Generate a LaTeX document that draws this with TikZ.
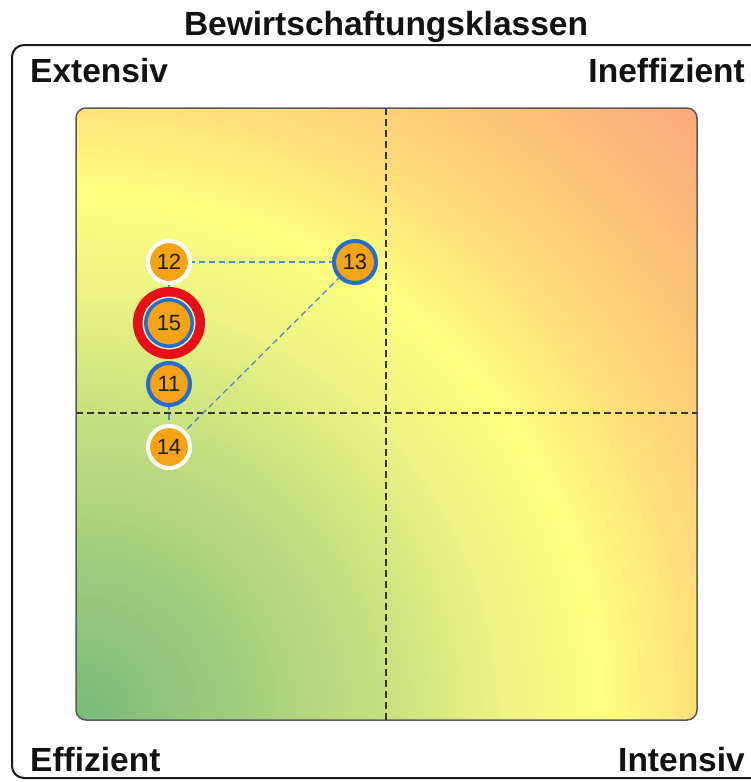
\documentclass[tikz,border=0pt]{standalone}
\usepackage{fontspec}
\setmainfont{Liberation Sans}
\pgfdeclarelayer{bgzero}
\pgfdeclarelayer{bgone}
\pgfsetlayers{bgzero,bgone,main}
\definecolor{dotorange}{RGB}{243,163,20}
\definecolor{ringblue}{RGB}{36,110,210}
\definecolor{linkblue}{RGB}{80,140,212}
\definecolor{ringred}{RGB}{232,16,24}
\definecolor{crossgray}{RGB}{55,55,50}
\definecolor{gz}{rgb}{0.47,0.73,0.48}
\definecolor{ga}{rgb}{0.62,0.80,0.49}
\definecolor{gb}{rgb}{0.78,0.88,0.50}
\definecolor{gc}{rgb}{0.93,0.96,0.52}
\definecolor{gd}{rgb}{1.0,1.0,0.50}
\definecolor{ge}{rgb}{1.0,0.88,0.48}
\definecolor{gf}{rgb}{0.99,0.79,0.47}
\definecolor{gg}{rgb}{0.98,0.64,0.48}
\begin{document}
\begin{tikzpicture}[x=1pt,y=-1pt,
  lbl/.style={font=\bfseries\fontsize{33.5}{40}\selectfont, inner sep=0, text=black!93},
  dot/.style={circle, fill=dotorange, inner sep=0, minimum size=42, line width=4,
    font=\fontsize{22}{26}\selectfont, text=black!88},
  whitedot/.style={dot, draw=white},
  bluedot/.style={dot, draw=ringblue},
  link/.style={draw=linkblue, line width=1.3, dash pattern=on 6pt off 4pt},
  cross/.style={draw=crossgray, line width=1.8, dash pattern=on 7pt off 4pt}]
\useasboundingbox (0,0) rectangle (750,782);
% title and frame
\node[lbl, anchor=base] (title) at (386,35) {Bewirtschaftungsklassen};
\draw[line width=2, black!90, rounded corners=12] (752,45) -- (12,45) -- (12,778) -- (752,778);
\node[lbl, anchor=base west] (ext) at (30,82) {Extensiv};
\node[lbl, anchor=base east] (ineff) at (745,82) {Ineffizient};
\node[lbl, anchor=base west] (eff) at (30,771) {Effizient};
\node[lbl, anchor=base east] (int) at (745,771) {Intensiv};
% quadrant field
\begin{pgfonlayer}{bgzero}
\begin{scope}
\clip[rounded corners=10] (76,108) rectangle (697,720);
\foreach \fa/\fb/\ca/\cb in {1.45/1.15/gg/gf, 1.15/1.0/gf/ge, 1.0/0.85/ge/gd, 0.85/0.7/gd/gc, 0.7/0.5/gc/gb, 0.5/0.25/gb/ga, 0.25/0/ga/gz} {
  \foreach \j in {0,...,29} {
    \pgfmathsetmacro\rr{621*(\fa-(\fa-\fb)*\j/30)}
    \pgfmathtruncatemacro\pp{100*\j/30}
    \fill[\cb!\pp!\ca] (76,720) circle (\rr);
  }
}
\end{scope}
\draw[black!65, line width=1.5, rounded corners=10] (76,108) rectangle (697,720);
\coordinate (vt) at (386,108);
\coordinate (vb) at (386,720);
\coordinate (hl) at (76,413);
\coordinate (hr) at (697,413);
\draw[cross] (vt) -- (vb);
\draw[cross] (hl) -- (hr);
\end{pgfonlayer}
% dots
\coordinate (p15) at (169,323);
\fill[ringred] (p15) circle (36);
\fill[white!75!yellow] (p15) circle (26.5);
\node[bluedot, minimum size=46.5, line width=3.5] (n15) at (p15) {15};
\node[whitedot] (n12) at (169,262) {12};
\node[bluedot] (n13) at (355,262) {13};
\node[bluedot] (n11) at (169,384) {11};
\node[whitedot] (n14) at (169,447) {14};
\begin{pgfonlayer}{bgone}
\draw[link] (n12.center) -- (n13.center);
\draw[link] (n13.center) -- (n14.center);
\draw[link] (n12.center) -- (n15.center);
\draw[link] (n15.center) -- (n11.center);
\draw[link] (n11.center) -- (n14.center);
\end{pgfonlayer}
\end{tikzpicture}
\end{document}
